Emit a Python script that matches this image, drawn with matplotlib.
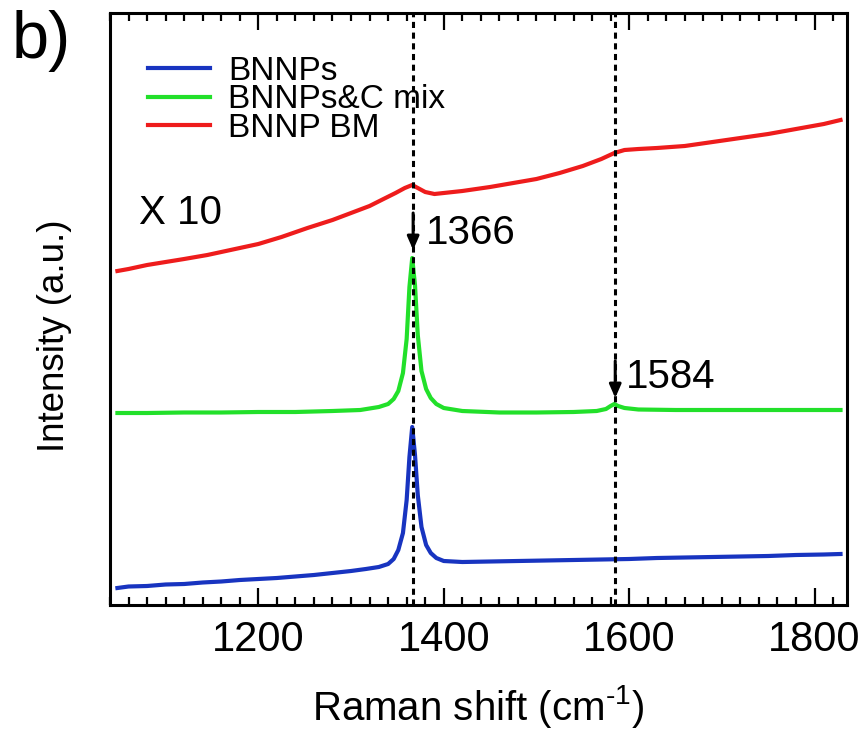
import matplotlib
matplotlib.use('Agg')
import matplotlib.pyplot as plt
from matplotlib.ticker import MultipleLocator

plt.rcParams['font.family'] = ['Liberation Sans', 'DejaVu Sans']
plt.rcParams['mathtext.default'] = 'regular'

# ---- data (arbitrary intensity units) ----
bnnp_x = [1048, 1060, 1080, 1100, 1120, 1140, 1160, 1180, 1200, 1220, 1240, 1260, 1280, 1300,
          1316, 1330, 1340, 1346, 1351, 1356, 1360, 1363, 1366, 1369, 1372, 1376, 1381, 1386,
          1392, 1400, 1420, 1450, 1480, 1510, 1540, 1570, 1600, 1630, 1660, 1690, 1720, 1750,
          1780, 1810, 1828]
bnnp_y = [17, 18.5, 19, 20.5, 21, 22.5, 23.5, 25, 26, 27, 28.5, 30, 32, 34,
          36, 38, 41, 46, 55, 72, 105, 148, 178, 150, 110, 78, 60, 52,
          47, 44, 43, 43.5, 44, 44.5, 45, 45.5, 46, 47, 47.5, 48, 48.5, 49,
          50, 50.5, 51]

mix_x = [1048, 1080, 1120, 1160, 1200, 1240, 1280, 1310, 1330, 1340, 1346, 1351, 1356, 1360,
         1363, 1366, 1369, 1372, 1376, 1381, 1386, 1392, 1400, 1420, 1460, 1500, 1540, 1565,
         1575, 1580, 1584, 1588, 1595, 1610, 1650, 1700, 1750, 1800, 1828]
mix_y = [192, 192, 192.5, 192.5, 193, 193, 194, 195, 198, 201, 206, 214, 232, 266,
         318, 347, 320, 270, 234, 216, 207, 201, 197, 194, 192.5, 192.5, 193, 194,
         196, 199, 201, 199, 197, 195.5, 195, 195, 195, 195, 195]

bm_x = [1048, 1060, 1080, 1100, 1120, 1145, 1170, 1200, 1225, 1253, 1280, 1300, 1320, 1335,
        1348, 1358, 1366, 1372, 1380, 1390, 1400, 1420, 1450, 1475, 1500, 1525, 1550, 1570,
        1584, 1595, 1610, 1630, 1660, 1690, 1720, 1750, 1780, 1810, 1828]
bm_y = [334, 336, 340, 343, 346, 350, 355, 361, 368, 377, 385, 392, 399, 406,
        412, 417, 420, 417, 413, 411, 412, 414, 418, 422, 426, 432, 439, 446,
        452, 455, 456, 457, 459, 463, 467, 471, 476, 481, 485]

peak_positions = [1367, 1585]
peak_labels = ['1366', '1584']
series_labels = ['BNNPs', 'BNNPs&C mix', 'BNNP BM']
xticks = [1200, 1400, 1600, 1800]

# ---- figure ----
fig = plt.figure(figsize=(8.66, 7.32), dpi=100)
ax = fig.add_axes([110/866, 1-605/732, 737/866, 592/732])

ax.plot(bnnp_x, bnnp_y, color='#1834c0', lw=3, label=series_labels[0])
ax.plot(mix_x, mix_y, color='#22e02a', lw=3, label=series_labels[1])
ax.plot(bm_x, bm_y, color='#ee1c1c', lw=3, label=series_labels[2])

for p in peak_positions:
    ax.axvline(p, color='k', ls=(0, (2.0, 1.5)), lw=2.2, zorder=3)

ax.set_xlim(1040, 1835)
ax.set_ylim(0, 592)
ax.set_yticks([])
ax.set_xticks(xticks)
ax.xaxis.set_minor_locator(MultipleLocator(20))
ax.tick_params(axis='x', which='both', direction='in', top=True, labelsize=30, pad=11)
ax.tick_params(axis='x', which='major', length=12, width=1.6)
ax.tick_params(axis='x', which='minor', length=6, width=1.6)
for s in ax.spines.values():
    s.set_linewidth(2.2)

ax.set_xlabel('Raman shift (cm$^{\u2010' + '1}$)', fontsize=29, labelpad=16)
ax.set_ylabel('Intensity (a.u.)', fontsize=26.5)
ax.yaxis.set_label_coords(-0.052, 0.455)

leg = ax.legend(loc='upper left', bbox_to_anchor=(38/737, 1-43/592), frameon=False,
                fontsize=24, handlelength=1.86, handletextpad=0.54, labelspacing=-0.08,
                borderaxespad=0, borderpad=0)
for h in leg.get_lines():
    h.set_linewidth(3)

# annotations
arrow_tops = [392, 244]
arrow_tips = [355, 207]
label_x = [1381, 1597]
label_y = [372, 228]
for p, t, b, lx, ly, lab in zip(peak_positions, arrow_tops, arrow_tips, label_x, label_y, peak_labels):
    ax.annotate('', xy=(p, b), xytext=(p, t),
                arrowprops=dict(arrowstyle='-|>,head_length=0.8,head_width=0.35',
                                color='k', lw=2.2, shrinkA=0, shrinkB=0))
    ax.text(lx, ly, lab, fontsize=29, va='center', ha='left')

ax.text(1071, 392, 'X 10', fontsize=29, va='center', ha='left')

fig.text(12/866, 1-10/732, 'b)', fontsize=48, va='top', ha='left')

fig.savefig('out.png', dpi=100)
